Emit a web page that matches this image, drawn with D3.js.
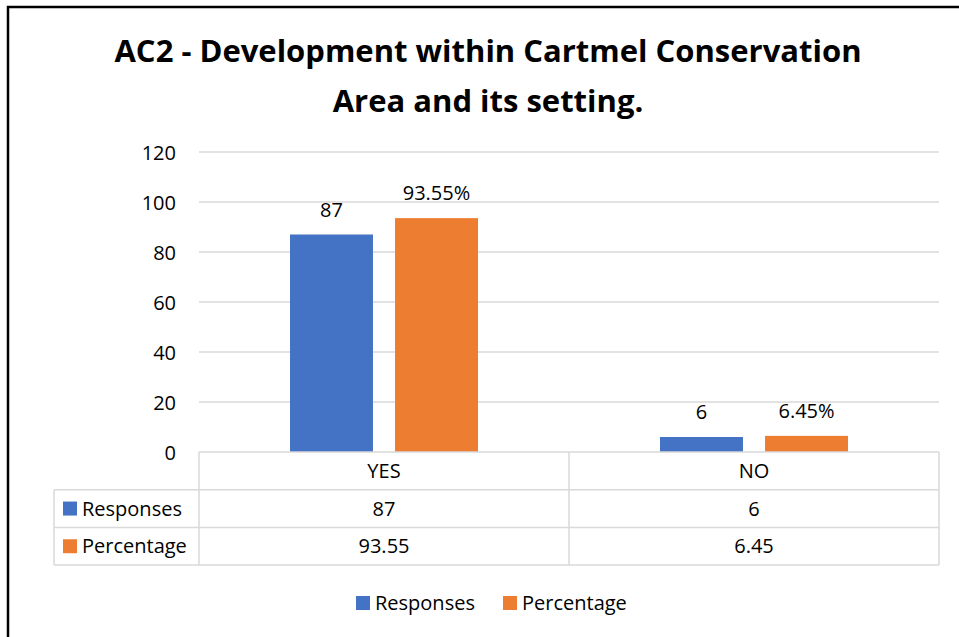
<!DOCTYPE html>
<html>
<head>
<meta charset="utf-8">
<script src="https://cdn.jsdelivr.net/npm/d3@7"></script>
<style>
  html, body { margin: 0; padding: 0; background: #fff; }
  svg { display: block; font-family: "Open Sans", Lato, sans-serif; }
</style>
</head>
<body>
<svg id="chart" width="959" height="637"></svg>
<script>
// Survey answers for policy AC2
const categories = ["YES", "NO"];
const seriesNames = ["Responses", "Percentage"];
const responses = [87, 6];
const percentage = [93.55, 6.45];
const yTicks = [0, 20, 40, 60, 80, 100, 120];
const titleLines = ["AC2 - Development within Cartmel Conservation", "Area and its setting."];
const seriesColors = ["#4472C4", "#ED7D31"];

const seriesValues = [responses, percentage];
const labelFormats = [d => String(d), d => d.toFixed(2) + "%"];
const tableFormats = [d => String(d), d => d.toFixed(2)];

const FONT = "'Open Sans', Lato, sans-serif";
const FS = 20;

const svg = d3.select("#chart");
const W = 959, H = 637;

svg.append("rect").attr("width", W).attr("height", H).attr("fill", "#fff");

// outer frame (left and top edges visible)
svg.append("path")
  .attr("d", `M8,${H + 5} V7 H${W + 5}`)
  .attr("fill", "none").attr("stroke", "#000").attr("stroke-width", 2.5);

// title
const title = svg.append("text")
  .attr("text-anchor", "middle")
  .attr("font-weight", 700)
  .attr("font-size", 31)
  .attr("fill", "#000");
titleLines.forEach((t, i) => {
  title.append("tspan").attr("x", 488).attr("y", 62 + i * 49.5).text(t);
});

// plot area
const plotLeft = 199, plotRight = 939, plotTop = 152, plotBottom = 452;

const y = d3.scaleLinear().domain([0, 120]).range([plotBottom, plotTop]);
const x = d3.scaleBand().domain(categories).range([plotLeft, plotRight]);
const xInner = d3.scaleBand().domain(seriesNames)
  .range([91, 279]).paddingInner(0.21);

// gridlines
svg.append("g").selectAll("line")
  .data(yTicks.filter(t => t > 0))
  .join("line")
  .attr("x1", plotLeft).attr("x2", plotRight)
  .attr("y1", d => y(d)).attr("y2", d => y(d))
  .attr("stroke", "#d9d9d9").attr("stroke-width", 1.3);

// y axis labels
const yAxis = d3.axisLeft(y).tickValues(yTicks).tickSize(0).tickPadding(0);
const yG = svg.append("g").attr("transform", "translate(176,0)").call(yAxis);
yG.select(".domain").remove();
yG.selectAll("text")
  .attr("font-family", FONT)
  .attr("font-size", FS).attr("fill", "#000")
  .attr("dy", "0.36em");

// bars
const groups = svg.append("g").selectAll("g")
  .data(categories)
  .join("g")
  .attr("transform", d => `translate(${x(d)},0)`);

groups.each(function (cat, ci) {
  const g = d3.select(this);
  seriesNames.forEach((s, si) => {
    const v = seriesValues[si][ci];
    g.append("rect")
      .attr("x", xInner(s))
      .attr("y", y(v))
      .attr("width", xInner.bandwidth())
      .attr("height", y(0) - y(v))
      .attr("fill", seriesColors[si]);
    g.append("text")
      .attr("x", xInner(s) + xInner.bandwidth() / 2)
      .attr("y", y(v) - 18)
      .attr("text-anchor", "middle")
      .attr("font-size", FS).attr("fill", "#000")
      .text(labelFormats[si](v));
  });
});

// data table under the axis
const rowH = 37.7;
const tableLeft = 54;
const gridColor = "#d9d9d9";
const tbl = svg.append("g");
const rowLines = [plotBottom, plotBottom + rowH, plotBottom + 2 * rowH, plotBottom + 3 * rowH];
rowLines.forEach((ly, i) => {
  tbl.append("line")
    .attr("x1", i === 0 ? plotLeft : tableLeft).attr("x2", plotRight)
    .attr("y1", ly).attr("y2", ly)
    .attr("stroke", gridColor).attr("stroke-width", 1.5);
});
const colLines = [plotLeft].concat(categories.map(c => x(c) + x.bandwidth()));
colLines.forEach(lx => {
  tbl.append("line")
    .attr("x1", lx).attr("x2", lx)
    .attr("y1", plotBottom).attr("y2", rowLines[3])
    .attr("stroke", gridColor).attr("stroke-width", 1.5);
});
tbl.append("line")
  .attr("x1", tableLeft).attr("x2", tableLeft)
  .attr("y1", rowLines[1]).attr("y2", rowLines[3])
  .attr("stroke", gridColor).attr("stroke-width", 1.5);

// category header row
categories.forEach(c => {
  tbl.append("text")
    .attr("x", x(c) + x.bandwidth() / 2)
    .attr("y", plotBottom + rowH / 2 + 7)
    .attr("text-anchor", "middle")
    .attr("font-size", FS).attr("fill", "#000")
    .text(c);
});

// series rows
seriesNames.forEach((s, si) => {
  const cy = plotBottom + rowH * (si + 1) + rowH / 2;
  tbl.append("rect")
    .attr("x", 63).attr("y", cy - 7).attr("width", 14).attr("height", 14)
    .attr("fill", seriesColors[si]);
  tbl.append("text")
    .attr("x", 82).attr("y", cy + 7)
    .attr("font-size", FS).attr("fill", "#000")
    .text(s);
  categories.forEach((c, ci) => {
    tbl.append("text")
      .attr("x", x(c) + x.bandwidth() / 2)
      .attr("y", cy + 7)
      .attr("text-anchor", "middle")
      .attr("font-size", FS).attr("fill", "#000")
      .text(tableFormats[si](seriesValues[si][ci]));
  });
});

// legend
const legendItems = [{ name: seriesNames[0], x: 356 }, { name: seriesNames[1], x: 503 }];
const legend = svg.append("g");
legendItems.forEach((it, i) => {
  legend.append("rect")
    .attr("x", it.x).attr("y", 596).attr("width", 14).attr("height", 14)
    .attr("fill", seriesColors[i]);
  legend.append("text")
    .attr("x", it.x + 19).attr("y", 610)
    .attr("font-size", FS).attr("fill", "#000")
    .text(it.name);
});
</script>
</body>
</html>
